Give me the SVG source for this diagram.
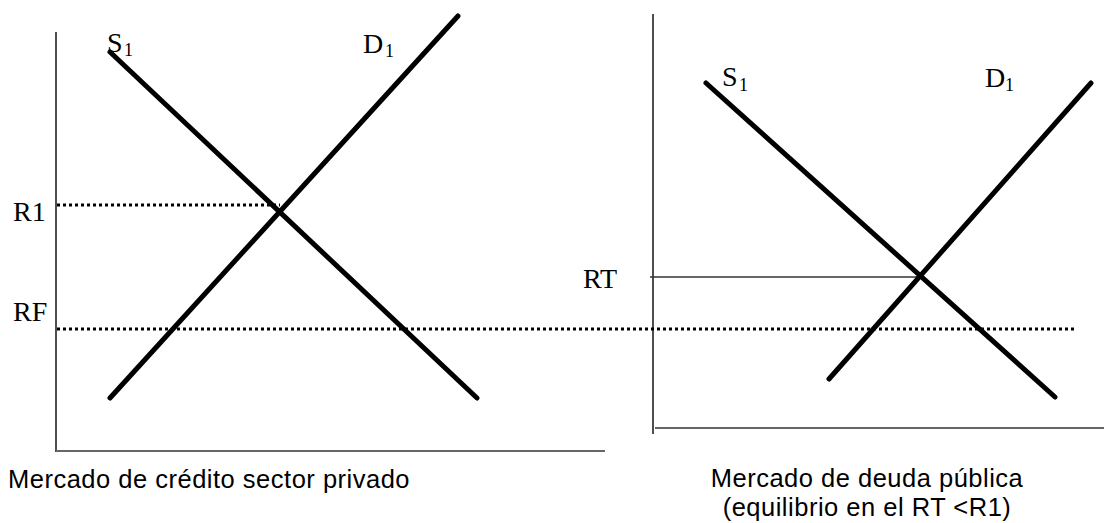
<svg xmlns="http://www.w3.org/2000/svg" width="1104" height="523" viewBox="0 0 1104 523">
<style>
.axis{stroke:#222;stroke-width:1.6;fill:none}
.axisb{stroke:#666;stroke-width:2;fill:none}
.curve{stroke:#000;stroke-width:5;stroke-linecap:round;fill:none}
.dot{stroke:#000;stroke-width:3;stroke-dasharray:3 3;fill:none}
.thin{stroke:#333;stroke-width:1.6;fill:none}
.lbl{font-family:"Liberation Serif","Times New Roman",serif;font-size:28px;fill:#000}
.sub{font-family:"Liberation Serif","Times New Roman",serif;font-size:18px;fill:#000}
.cap{font-family:"Liberation Sans",Arial,sans-serif;font-size:25.5px;letter-spacing:0.5px;fill:#000}
</style>
<rect width="1104" height="523" fill="#fff"/>
<g id="left-axes">
<line class="axis" x1="56" y1="32" x2="56" y2="452"/>
<line class="axisb" x1="56" y1="451" x2="605" y2="451"/>
</g>
<g id="right-axes">
<line class="axis" x1="653" y1="14" x2="653" y2="434"/>
<line class="axisb" x1="655" y1="428" x2="1104" y2="428"/>
</g>
<g id="connectors">
<line class="dot" x1="57" y1="205" x2="280" y2="205"/>
<line class="dot" x1="57" y1="329" x2="1075" y2="329"/>
<line class="thin" x1="650" y1="277" x2="919" y2="277"/>
</g>
<g id="left-S1">
<line class="curve" x1="110" y1="52" x2="477" y2="398"/>
<text class="lbl" x="107" y="52">S</text><text class="sub" x="124" y="56">1</text>
</g>
<g id="left-D1">
<line class="curve" x1="110" y1="398" x2="458" y2="16"/>
<text class="lbl" x="363" y="53">D</text><text class="sub" x="385" y="57">1</text>
</g>
<g id="right-S1">
<line class="curve" x1="706" y1="83" x2="1055" y2="397"/>
<text class="lbl" x="722" y="86">S</text><text class="sub" x="739" y="91">1</text>
</g>
<g id="right-D1">
<line class="curve" x1="829" y1="379" x2="1091" y2="83"/>
<text class="lbl" x="985" y="87">D</text><text class="sub" x="1005" y="91">1</text>
</g>
<g id="labels">
<text class="lbl" x="13" y="221">R1</text>
<text class="lbl" x="13" y="321">RF</text>
<text class="lbl" x="583" y="288">RT</text>
</g>
<g id="captions">
<text class="cap" x="8" y="488">Mercado de crédito sector privado</text>
<text class="cap" x="867" y="487" text-anchor="middle">Mercado de deuda pública</text>
<text class="cap" x="867" y="516" text-anchor="middle">(equilibrio en el RT &lt;R1)</text>
</g>
</svg>
